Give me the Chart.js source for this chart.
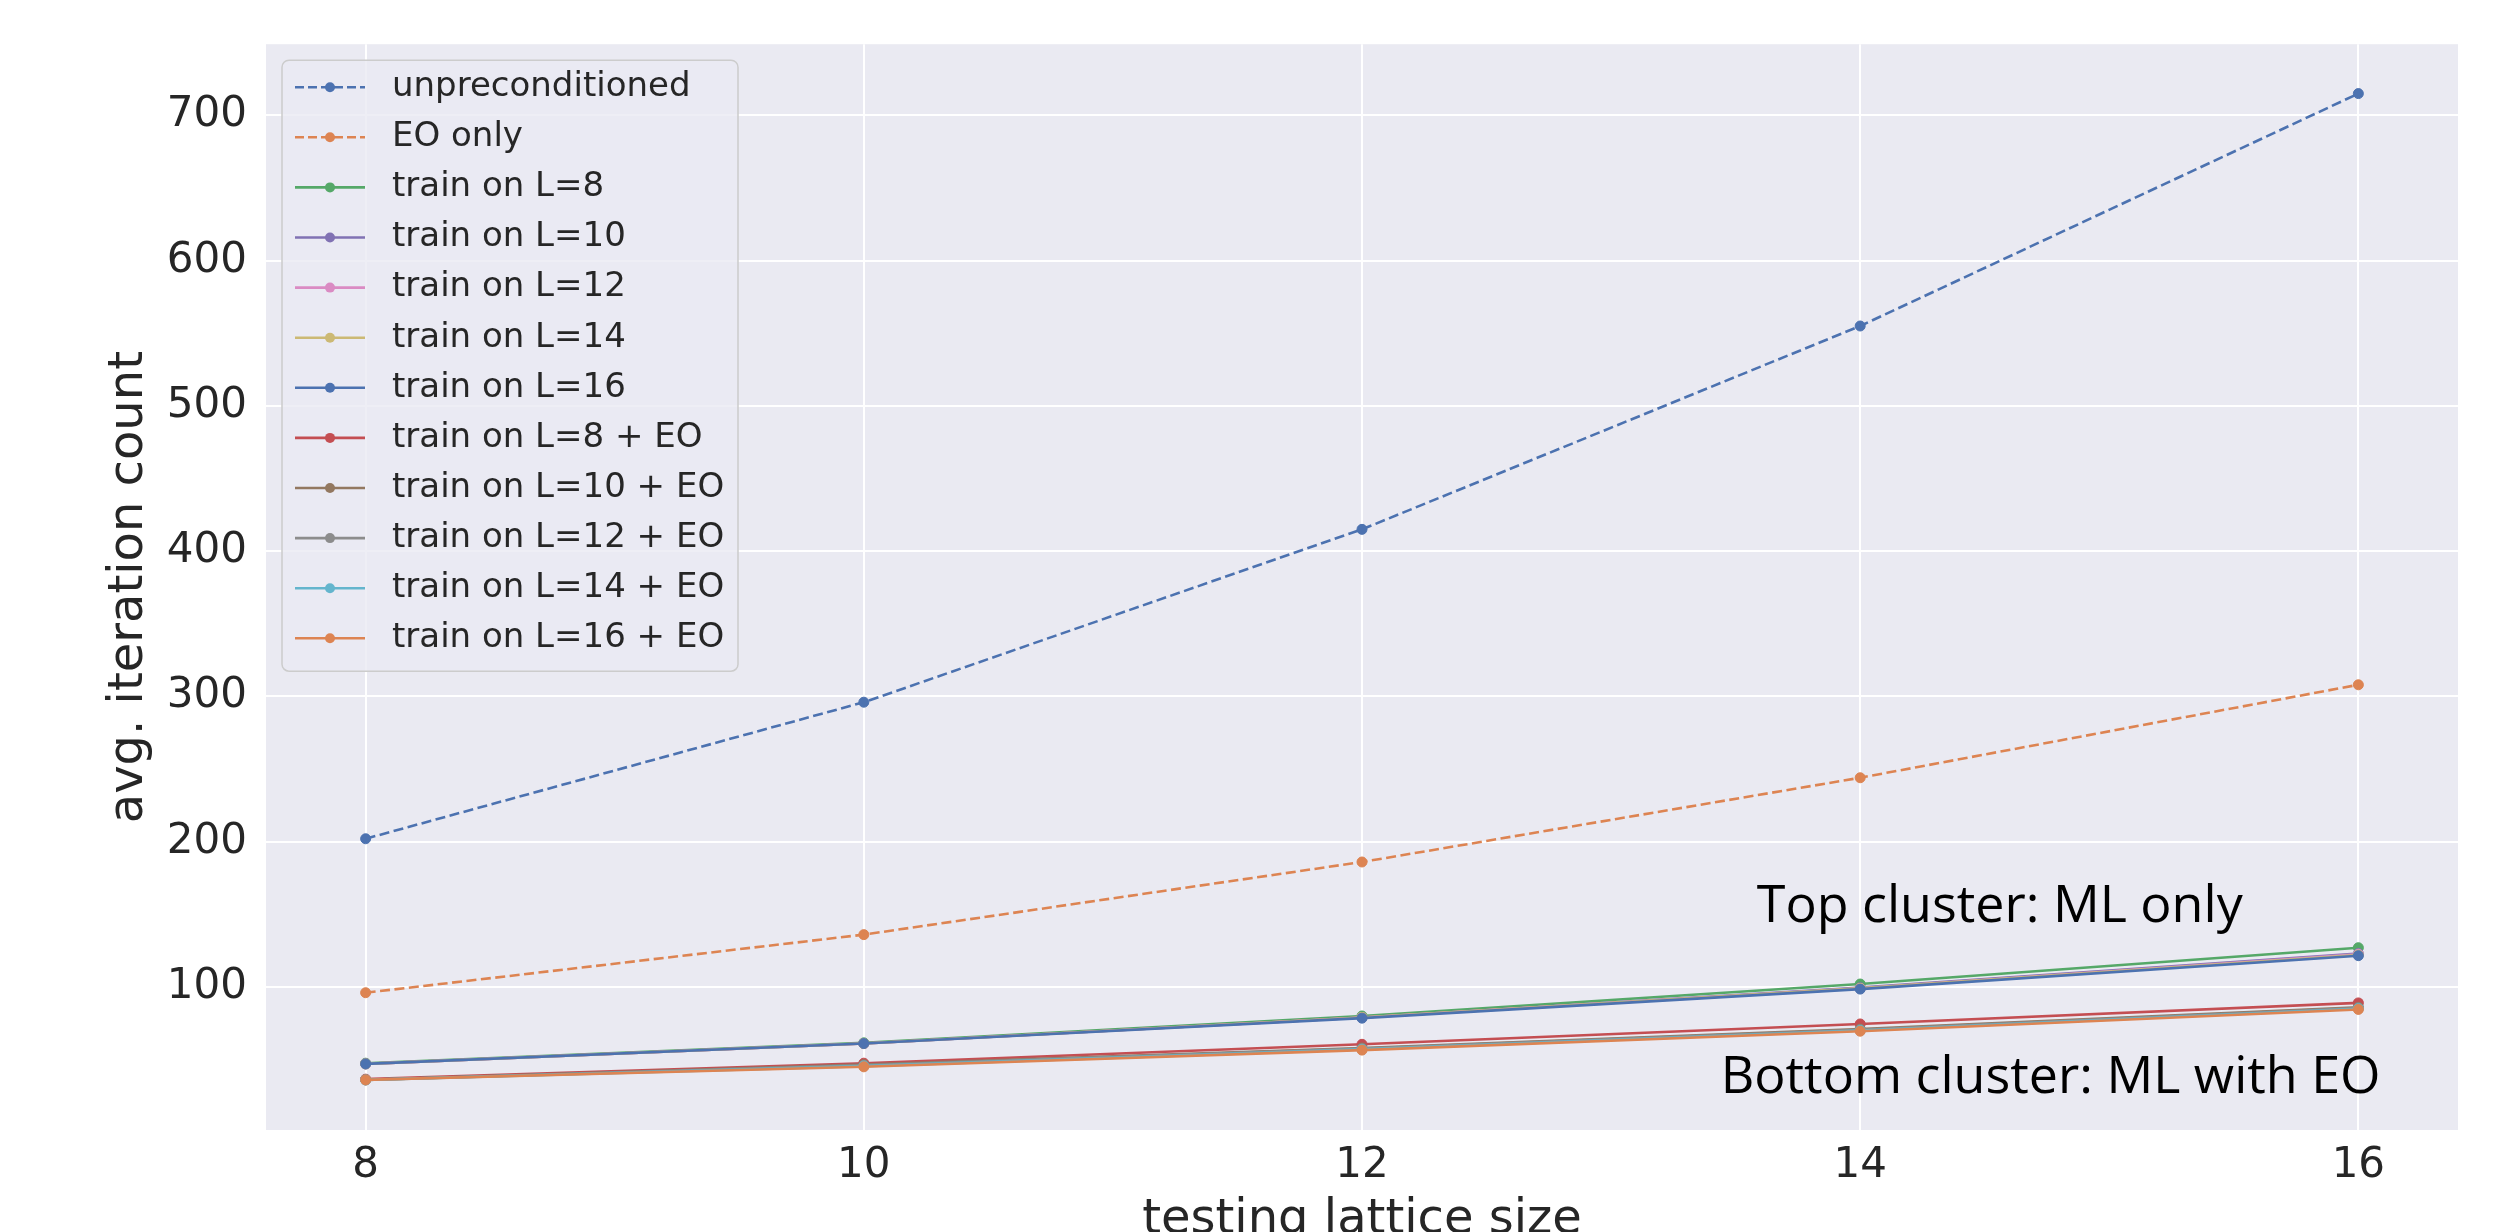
<!DOCTYPE html>
<html>
<head>
<meta charset="utf-8">
<script src="https://cdn.jsdelivr.net/npm/chart.js@4.4.1/dist/chart.umd.min.js"></script>
<style>
  html, body { margin: 0; padding: 0; background: #fff; }
  canvas { display: block; }
</style>
</head>
<body>
<canvas id="iterChart" width="2497" height="1232"></canvas>
<script>
// testing lattice sizes (x)
const latticeSizes = [8, 10, 12, 14, 16];
const xTicks = [8, 10, 12, 14, 16];
const yTicks = [100, 200, 300, 400, 500, 600, 700];

const seriesNames = [
  "unpreconditioned", "EO only",
  "train on L=8", "train on L=10", "train on L=12", "train on L=14", "train on L=16",
  "train on L=8 + EO", "train on L=10 + EO", "train on L=12 + EO", "train on L=14 + EO", "train on L=16 + EO"
];

const unpreconditioned = [202, 296, 415, 555, 715];
const eoOnly = [96, 136, 186, 244, 308];
const trainL8 = [47.5, 61.5, 80, 102, 127];
const trainL10 = [47, 61, 79, 99.5, 123];
const trainL12 = [47, 61, 79, 99, 122.5];
const trainL14 = [47, 61, 79, 99, 122];
const trainL16 = [47, 61, 78.5, 98.5, 121.5];
const trainL8EO = [36.5, 47.5, 60.5, 74.5, 89];
const trainL10EO = [36, 46.5, 58, 71, 86];
const trainL12EO = [36, 46, 57.5, 70.5, 85.5];
const trainL14EO = [36, 45.5, 57, 70, 85];
const trainL16EO = [36, 45, 56.5, 69.5, 84.5];

const seriesValues = [unpreconditioned, eoOnly, trainL8, trainL10, trainL12, trainL14, trainL16,
  trainL8EO, trainL10EO, trainL12EO, trainL14EO, trainL16EO];

const seriesColors = ["#4C72B0", "#DD8452", "#55A868", "#8172B3", "#DA8BC3", "#CCB974", "#4C72B0",
  "#C44E52", "#937860", "#8C8C8C", "#64B5CD", "#DD8452"];
const dashedSeries = [true, true, false, false, false, false, false, false, false, false, false, false];

const DASH = [10, 4.5];
const TEXT = "#262626";

const datasets = seriesNames.map((name, i) => ({
  label: name,
  data: latticeSizes.map((x, j) => ({ x: x, y: seriesValues[i][j] })),
  borderColor: seriesColors[i],
  backgroundColor: seriesColors[i],
  pointBackgroundColor: seriesColors[i],
  pointBorderColor: seriesColors[i],
  borderWidth: 2.6,
  borderDash: dashedSeries[i] ? DASH : [],
  pointRadius: 5,
  pointBorderWidth: 1,
  tension: 0,
  order: -i
}));

// axes background, like seaborn darkgrid
const plotBackground = {
  id: "plotBackground",
  beforeDraw(chart) {
    const { ctx, chartArea: a } = chart;
    ctx.save();
    ctx.fillStyle = "#EAEAF2";
    ctx.fillRect(a.left, a.top, a.right - a.left, a.bottom - a.top);
    ctx.restore();
  }
};

// legend box in the upper left of the plot
const insideLegend = {
  id: "insideLegend",
  afterDatasetsDraw(chart) {
    const { ctx, chartArea: a } = chart;
    const boxX = a.left + 16, boxY = a.top + 16, boxW = 456, boxH = 611;
    const rowY0 = boxY + 27, rowStep = 50.1;
    ctx.save();
    ctx.beginPath();
    ctx.roundRect(boxX, boxY, boxW, boxH, 7);
    ctx.fillStyle = "rgba(234,234,242,0.8)";
    ctx.fill();
    ctx.strokeStyle = "#CCCCCC";
    ctx.lineWidth = 1.5;
    ctx.stroke();
    ctx.font = "34px 'DejaVu Sans'";
    ctx.textBaseline = "middle";
    ctx.textAlign = "left";
    seriesNames.forEach((name, i) => {
      const y = rowY0 + i * rowStep;
      ctx.strokeStyle = seriesColors[i];
      ctx.lineWidth = 2.6;
      ctx.setLineDash(dashedSeries[i] ? [9, 4] : []);
      ctx.beginPath();
      ctx.moveTo(boxX + 13, y);
      ctx.lineTo(boxX + 83, y);
      ctx.stroke();
      ctx.setLineDash([]);
      ctx.fillStyle = seriesColors[i];
      ctx.beginPath();
      ctx.arc(boxX + 48, y, 5, 0, Math.PI * 2);
      ctx.fill();
      ctx.fillStyle = TEXT;
      ctx.fillText(name, boxX + 110, y);
    });
    ctx.restore();
  }
};

// cluster notes, placed in data coordinates
const clusterNotes = [
  { text: "Top cluster: ML only", x: 13.585, y: 144.5 },
  { text: "Bottom cluster: ML with EO", x: 13.44, y: 26.7 }
];
const notesPlugin = {
  id: "notes",
  afterDatasetsDraw(chart) {
    const { ctx } = chart;
    const xs = chart.scales.x, ys = chart.scales.y;
    ctx.save();
    ctx.font = "52px 'Open Sans'";
    ctx.fillStyle = "#000";
    ctx.textAlign = "left";
    ctx.textBaseline = "alphabetic";
    clusterNotes.forEach(n => ctx.fillText(n.text, xs.getPixelForValue(n.x), ys.getPixelForValue(n.y)));
    ctx.restore();
  }
};

new Chart(document.getElementById("iterChart"), {
  type: "line",
  data: { datasets: datasets },
  options: {
    responsive: false,
    animation: false,
    layout: { padding: { left: 0, right: 39, top: 39, bottom: 0 } },
    plugins: {
      legend: { display: false },
      tooltip: { enabled: false }
    },
    scales: {
      x: {
        type: "linear",
        min: 7.6,
        max: 16.4,
        afterBuildTicks: s => { s.ticks = xTicks.map(v => ({ value: v })); },
        afterFit: s => { s.height = 102; },
        grid: { color: "#FFFFFF", lineWidth: 2, drawTicks: false },
        border: { display: false },
        ticks: { color: TEXT, font: { family: "DejaVu Sans", size: 42 }, padding: 11, maxRotation: 0 },
        title: {
          display: true,
          text: "testing lattice size",
          color: TEXT,
          font: { family: "DejaVu Sans", size: 48 },
          padding: { top: 0, bottom: -17 }
        }
      },
      y: {
        type: "linear",
        min: 1.5,
        max: 749,
        afterBuildTicks: s => { s.ticks = yTicks.map(v => ({ value: v })); },
        afterFit: s => { s.width = 266; },
        grid: { color: "#FFFFFF", lineWidth: 2, drawTicks: false },
        border: { display: false },
        ticks: { color: TEXT, font: { family: "DejaVu Sans", size: 42 }, padding: 19 },
        title: {
          display: true,
          text: "avg. iteration count",
          color: TEXT,
          font: { family: "DejaVu Sans", size: 48 },
          padding: { top: 101, bottom: 0 }
        }
      }
    }
  },
  plugins: [plotBackground, insideLegend, notesPlugin]
});
</script>
</body>
</html>
